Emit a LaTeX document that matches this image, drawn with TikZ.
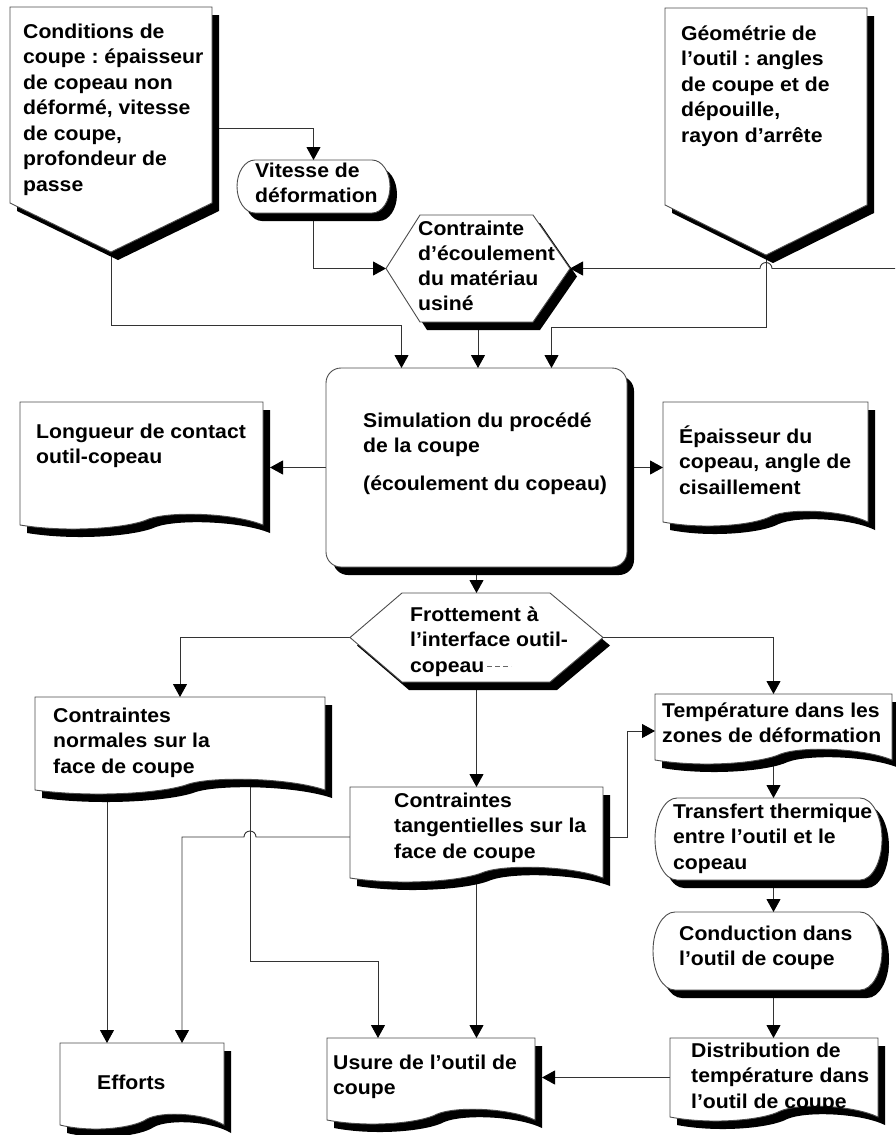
\documentclass[tikz,border=0pt]{standalone}
\usepackage{fontspec}
\setmainfont{Liberation Sans}[FakeStretch=1.06]
\usetikzlibrary{arrows.meta,shadows,fit,calc}
\pgfdeclarelayer{bg}
\pgfsetlayers{bg,main}
\frenchspacing
\tikzset{
 frame/.style={draw=none, inner sep=0pt, outer sep=0pt},
 shp/.style={draw=black!70, line width=0.9pt, fill=white, line join=miter,
   drop shadow={shadow xshift=7pt, shadow yshift=-8pt, opacity=1, fill=black}},
 arr/.style={draw=black!80, line width=0.9pt, -{Triangle[length=13pt,width=14pt,color=black]}},
 txt/.style={anchor=north west, align=left, inner sep=0pt,
   font=\bfseries\fontsize{20}{25.5}\selectfont},
}
\newcommand\fl{\rule{0pt}{19pt}}
\newcommand\docshape[4]{%
 \draw[shp] (#1,#2) -- (#3,#2) -- (#3,#4)
   .. controls ({#3-0.12*(#3-#1)},{#4-12}) and ({#1+0.62*(#3-#1)},{#4-14}) .. ({#1+0.53*(#3-#1)},{#4-6})
   .. controls ({#1+0.45*(#3-#1)},{#4+3}) and ({#1+0.2*(#3-#1)},{#4+8}) .. (#1,#4) -- cycle;}
\newcommand\stadium[5]{%
 \draw[shp] ({#1+#5},#2) -- ({#3-#5},#2)
   arc[start angle=-90, end angle=90, x radius=#5, y radius={(#4-#2)/2}]
   -- ({#1+#5},#4)
   arc[start angle=90, end angle=270, x radius=#5, y radius={(#4-#2)/2}] -- cycle;}
\begin{document}
\begin{tikzpicture}[x=1pt,y=-1pt]
\useasboundingbox (0,0) rectangle (895,1135);
% frames (named nodes)
\node[frame, fit={(10,7) (212,203)}] (cond) {};
\node[frame, fit={(237,160) (390,213)}] (vit) {};
\node[frame, fit={(386,215) (570,322)}] (ctr) {};
\node[frame, fit={(665,8) (867,205)}] (geo) {};
\node[frame, fit={(326,368) (627,567)}] (sim) {};
\node[frame, fit={(20,402) (263,525)}] (lon) {};
\node[frame, fit={(663,402) (868,522)}] (epa) {};
\node[frame, fit={(350,593) (603,682)}] (frot) {};
\node[frame, fit={(35,697) (325,790)}] (nor) {};
\node[frame, fit={(350,787) (603,878)}] (tan) {};
\node[frame, fit={(655,694) (892,760)}] (tem) {};
\node[frame, fit={(655,798) (882,880)}] (tra) {};
\node[frame, fit={(653,912) (882,990)}] (con) {};
\node[frame, fit={(670,1038) (878,1117)}] (dis) {};
\node[frame, fit={(60,1043) (224,1125)}] (eff) {};
\node[frame, fit={(327,1038) (535,1120)}] (usu) {};
\coordinate (rin) at (895,268.5);
\coordinate (e1) at ([xshift=-35pt]eff.north);
\coordinate (e2) at ([xshift=40pt]eff.north);

% connectors
\begin{pgfonlayer}{bg}
\draw[arr] ([yshift=-23pt]cond.center) -| (vit.north);
\draw[arr] (vit.center) |- (ctr.west);
\draw[arr] (rin) -- ++(-123,0) arc[start angle=0, end angle=-180, radius=6] -- (ctr.east);
\draw[arr] (cond.center) -- ++(0,220) -| ([xshift=-75pt]sim.north);
\draw[arr] (ctr.center) -- (ctr.center |- sim.north);
\draw[arr] (geo.center) -- ++(0,220.5) -| ([xshift=75pt]sim.north);
\draw[arr, shorten >=7pt] (sim.center) -- (sim.center -| lon.east);
\draw[arr] (sim.center) -- (sim.center -| epa.west);
\draw[arr] (sim.center) -- (sim.center |- frot.north);
\draw[arr] (frot.center) -| (nor.north);
\draw[arr] (frot.center) -- (frot.center |- tan.north);
\draw[arr] (frot.center) -| (tem.north);
\draw[arr] ([yshift=-4.5pt]tan.center) -- ++(150.5,0) |- ([yshift=-4pt]tem.west);
\draw[arr] (tem.center) -- (tem.center |- tra.north);
\draw[arr] (tra.center -| tem.center) -- (tem.center |- con.north);
\draw[arr] (con.center -| tem.center) -- (tem.center |- dis.north);
\draw[arr, shorten >=7pt] (dis.center) -- (dis.center -| usu.east);
\draw[arr] (tan.center) -- (tan.center |- usu.north);
\draw[arr] (e1 |- nor.center) -- (e1);
\draw[arr] ([yshift=-4.5pt]tan.center) -- ++(-220.5,0) arc[start angle=0, end angle=-180, radius=6] -| (e2);
\draw[arr] ([xshift=70pt]nor.center) -- ++(0,217.5) -| ([xshift=-53pt]usu.north);
\end{pgfonlayer}

% shapes
\draw[shp] (10,7) -- (212,7) -- (212,203) -- (111,252) -- (10,203) -- cycle;
\stadium{237}{160}{390}{213}{18}
\draw[shp] (386,268.5) -- (420,215) -- (533,215) -- (570,268.5) -- (533,322) -- (420,322) -- cycle;
\draw[shp] (665,8) -- (867,8) -- (867,205) -- (766,255) -- (665,205) -- cycle;
\draw[shp, rounded corners=15pt] (326,368) rectangle (627,567);
\docshape{20}{402}{263}{525}
\docshape{663}{402}{868}{522}
\draw[shp] (350,637.5) -- (402,593) -- (550,593) -- (603,637.5) -- (550,682) -- (402,682) -- cycle;
\docshape{35}{697}{325}{790}
\docshape{350}{787}{603}{878}
\docshape{655}{694}{892}{760}
\stadium{655}{798}{882}{880}{22}
\stadium{653}{912}{882}{990}{22}
\docshape{670}{1038}{878}{1117}
\docshape{60}{1043}{224}{1125}
\docshape{327}{1038}{535}{1120}

% texts
\node[txt] (tcond) at (23,19) {\fl Conditions de\\coupe : épaisseur\\de copeau non\\déformé, vitesse\\de coupe,\\profondeur de\\passe};
\node[txt] (tvit) at (255,158) {\fl Vitesse de\\déformation};
\node[txt, font=\bfseries\fontsize{20}{25}\selectfont] (tctr) at (418,216) {\fl Contrainte\\d’écoulement\\du matériau\\usiné};
\node[txt] (tgeo) at (681,21) {\fl Géométrie de\\l’outil : angles\\de coupe et de\\dépouille,\\rayon d’arrête};
\node[txt] (tsim) at (363,408) {\fl Simulation du procédé\\de la coupe\\[12pt](écoulement du copeau)};
\node[txt] (tlon) at (36,419) {\fl Longueur de contact\\outil-copeau};
\node[txt] (tepa) at (679,424) {\fl Épaisseur du\\copeau, angle de\\cisaillement};
\node[txt] (tfrot) at (410,602) {\fl Frottement à\\l’interface outil-\\copeau};
\draw[black!60, line width=0.8pt, dash pattern=on 5pt off 3pt] (487,666) -- (511,666);
\node[txt] (tnor) at (53,703) {\fl Contraintes\\normales sur la\\face de coupe};
\node[txt] (ttan) at (394,788) {\fl Contraintes\\tangentielles sur la\\face de coupe};
\node[txt] (ttem) at (662,698) {\fl Température dans les\\zones de déformation};
\node[txt] (ttra) at (673,799) {\fl Transfert thermique\\entre l’outil et le\\copeau};
\node[txt] (tcon) at (679,921) {\fl Conduction dans\\l’outil de coupe};
\node[txt] (tdis) at (691,1038) {\fl Distribution de\\température dans\\l’outil de coupe};
\node[txt] (teff) at (97,1070) {\fl Efforts};
\node[txt] (tusu) at (333,1050) {\fl Usure de l’outil de\\coupe};
\end{tikzpicture}
\end{document}
